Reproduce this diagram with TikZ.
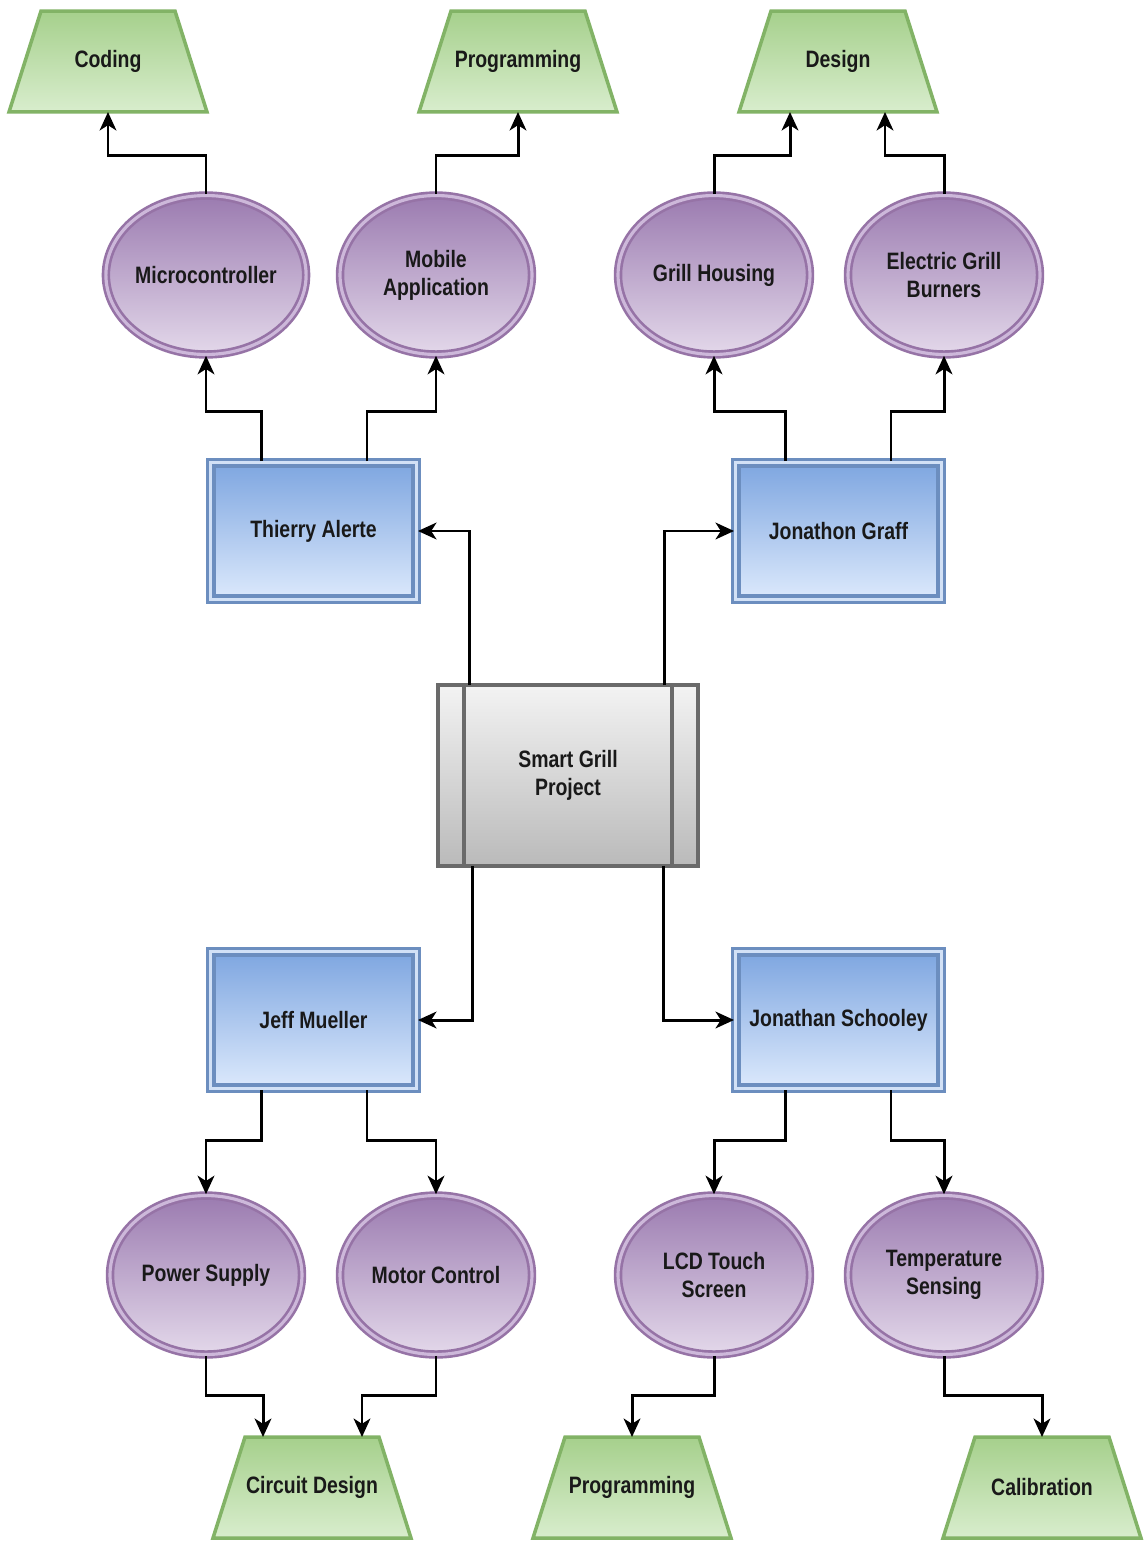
\documentclass[tikz,border=0pt]{standalone}
\usepackage{fontspec}
\newfontfamily\lblfont[FakeStretch=0.82]{Liberation Sans}
\usetikzlibrary{arrows.meta,shapes.geometric,backgrounds}
\definecolor{grnB}{HTML}{82B366}
\definecolor{grnT}{HTML}{A6D08C}
\definecolor{grnL}{HTML}{D8EDCD}
\definecolor{purB}{HTML}{9673A6}
\definecolor{purT}{HTML}{9B7BB0}
\definecolor{purL}{HTML}{E3D8EA}
\definecolor{purD}{HTML}{CDB8DA}
\definecolor{bluB}{HTML}{6C8EBF}
\definecolor{bluT}{HTML}{7EA6E0}
\definecolor{bluL}{HTML}{DCE9FC}
\definecolor{bluD}{HTML}{D2E1F6}
\definecolor{gryB}{HTML}{6A6A6A}
\definecolor{gryT}{HTML}{F3F3F3}
\definecolor{gryL}{HTML}{BABABA}
\begin{document}
\begin{tikzpicture}[x=0.02cm,y=-0.02cm,
  every node/.style={font={\lblfont\bfseries\fontsize{13.5}{16}\selectfont}, text=black!90, align=center},
  trapbox/.style={rectangle, minimum width=3.96cm, minimum height=2.02cm, inner sep=0pt, outer sep=0pt},
  trapdraw/.style={draw=grnB, line width=2pt, line join=miter, top color=grnT, bottom color=grnL},
  oval/.style={ellipse, minimum width=3.84cm, minimum height=3.18cm, inner sep=0pt,
    draw=purB, line width=1.5pt, double=purD, double distance=1.8pt,
    top color=purT, bottom color=purL},
  person/.style={rectangle, minimum width=4.11cm, minimum height=2.73cm, inner sep=0pt,
    draw=bluB, line width=2pt, double=bluD, double distance=1.5pt,
    top color=bluT, bottom color=bluL},
  proj/.style={rectangle, minimum width=5.2cm, minimum height=3.62cm, inner sep=0pt, outer sep=0pt,
    draw=gryB, line width=2.8pt, top color=gryT, bottom color=gryL},
  arr/.style={line width=1.7pt, -{Stealth[length=10.5pt,width=9.5pt,inset=3pt]}}]
\useasboundingbox (0,0) rectangle (1143,1541);

\node[trapbox] (coding) at (108,61.5) {Coding};
\node[trapbox] (prog1) at (518,61.5) {Programming};
\node[trapbox] (design) at (838,61.5) {Design};

\node[oval] (mc) at (206,275) {Microcontroller};
\node[oval] (mob) at (436,275) {Mobile\\Application};
\node[oval] (gh) at (714,275) {Grill Housing};
\node[oval] (egb) at (944,275) {Electric Grill\\Burners};

\node[person] (ta) at (313.5,531) {Thierry Alerte};
\node[person] (jg) at (838.5,531) {Jonathon Graff};

\node[proj] (sg) at (568,775.5) {Smart Grill\\Project};
\draw[gryB, line width=2.2pt] ([xshift=0.52cm]sg.north west) -- ([xshift=0.52cm]sg.south west);
\draw[gryB, line width=2.2pt] ([xshift=-0.52cm]sg.north east) -- ([xshift=-0.52cm]sg.south east);

\node[person] (jm) at (313.5,1020) {Jeff Mueller};
\node[person] (js) at (838.5,1020) {Jonathan Schooley};

\node[oval] (ps) at (206,1275) {Power Supply};
\node[oval] (mcl) at (436,1275) {Motor Control};
\node[oval] (lcd) at (714,1275) {LCD Touch\\Screen};
\node[oval] (ts) at (944,1275) {Temperature\\Sensing};

\node[trapbox] (cd) at (312,1487.5) {Circuit Design};
\node[trapbox] (prog2) at (632,1487.5) {Programming};
\node[trapbox] (cal) at (1042,1487.5) {Calibration};

\begin{scope}[on background layer]
\fill[white] (0,0) rectangle (1143,1541);
\foreach \n in {coding,prog1,design,cd,prog2,cal}
  \draw[trapdraw] (\n.south west) -- ([xshift=0.64cm]\n.north west)
    -- ([xshift=-0.64cm]\n.north east) -- (\n.south east) -- cycle;
\end{scope}

\draw[arr] (mc.north) -- ++(0,-39) -| (coding.south);
\draw[arr] (mob.north) -- ++(0,-39) -| (prog1.south);
\draw[arr] (gh.north) -- ++(0,-39) -| ([xshift=-0.96cm]design.south);
\draw[arr] (egb.north) -- ++(0,-39) -| ([xshift=0.94cm]design.south);

\draw[arr] ([xshift=-1.05cm]ta.north) -- ++(0,-50) -| (mc.south);
\draw[arr] ([xshift=1.07cm]ta.north) -- ++(0,-50) -| (mob.south);
\draw[arr] ([xshift=-1.07cm]jg.north) -- ++(0,-50) -| (gh.south);
\draw[arr] ([xshift=1.05cm]jg.north) -- ++(0,-50) -| (egb.south);

\draw[arr] ([xshift=-1.98cm]sg.north) |- (ta.east);
\draw[arr] ([xshift=1.94cm]sg.north) |- (jg.west);
\draw[arr] ([xshift=-1.92cm]sg.south) |- (jm.east);
\draw[arr] ([xshift=1.92cm]sg.south) |- (js.west);

\draw[arr] ([xshift=-1.05cm]jm.south) -- ++(0,50) -| (ps.north);
\draw[arr] ([xshift=1.07cm]jm.south) -- ++(0,50) -| (mcl.north);
\draw[arr] ([xshift=-1.07cm]js.south) -- ++(0,50) -| (lcd.north);
\draw[arr] ([xshift=1.05cm]js.south) -- ++(0,50) -| (ts.north);

\draw[arr] (ps.south) -- ++(0,40) -| ([xshift=-0.98cm]cd.north);
\draw[arr] (mcl.south) -- ++(0,40) -| ([xshift=1.0cm]cd.north);
\draw[arr] (lcd.south) -- ++(0,40) -| (prog2.north);
\draw[arr] (ts.south) -- ++(0,40) -| (cal.north);
\end{tikzpicture}
\end{document}
